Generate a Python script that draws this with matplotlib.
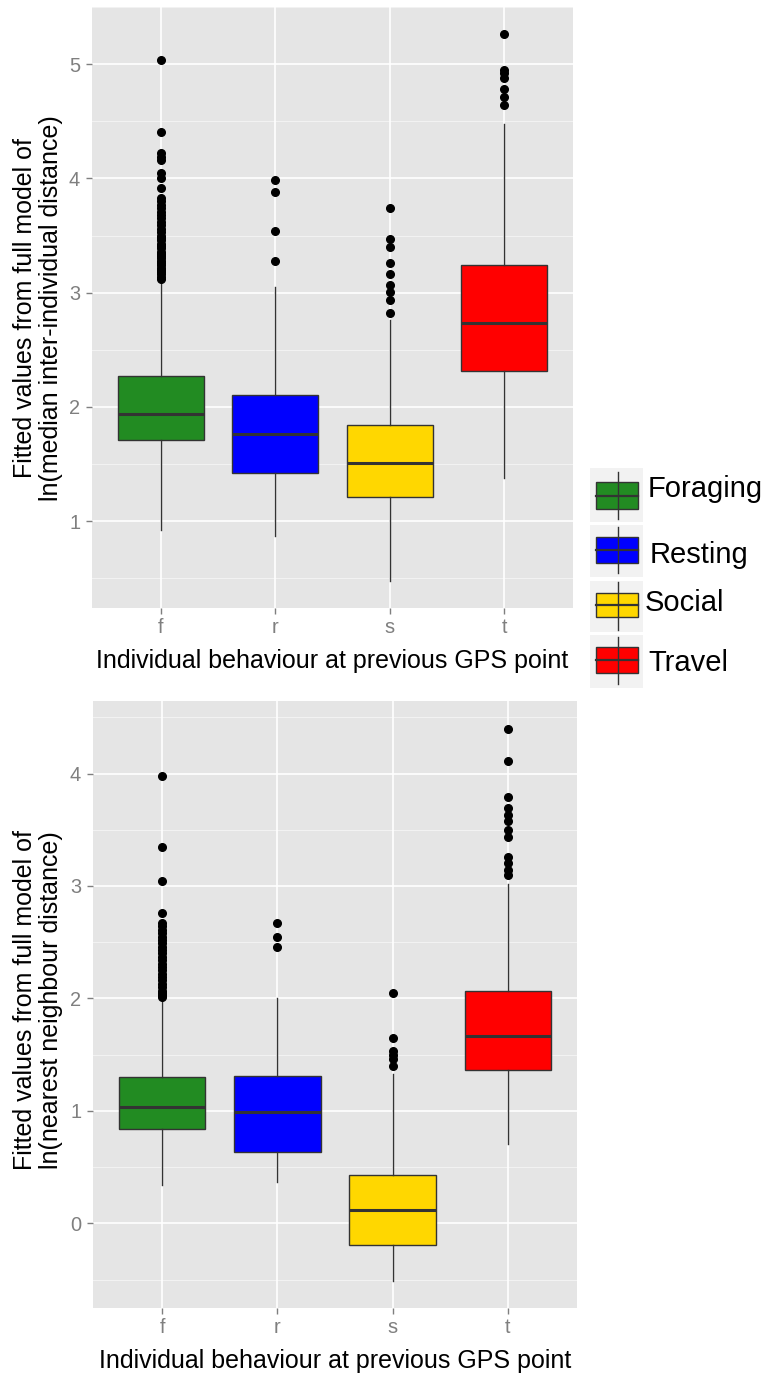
import matplotlib
matplotlib.use("Agg")
import matplotlib.pyplot as plt
from matplotlib.patches import Rectangle
from matplotlib.lines import Line2D

plt.rcParams["font.family"] = ["Liberation Sans", "DejaVu Sans"]

W, H, DPI = 770, 1380, 100

# ---------------------------------------------------------------- data
categories = ["f", "r", "s", "t"]
behaviours = ["Foraging", "Resting", "Social", "Travel"]
fill_colours = ["#228B22", "#0000FF", "#FFD700", "#FF0000"]

# upper panel: ln(median inter-individual distance)
iid_whislo = [0.92, 0.87, 0.48, 1.38]
iid_q1 = [1.71, 1.42, 1.21, 2.31]
iid_med = [1.94, 1.76, 1.51, 2.73]
iid_q3 = [2.27, 2.10, 1.84, 3.24]
iid_whishi = [3.10, 3.05, 2.76, 4.48]
iid_outliers = [
    [5.04, 4.41, 4.22, 4.19, 4.16, 4.05, 4.00, 3.92, 3.83, 3.80, 3.77, 3.74,
     3.71, 3.68, 3.65, 3.62, 3.59, 3.56, 3.53, 3.50, 3.48, 3.46, 3.43, 3.41,
     3.39, 3.36, 3.34, 3.32, 3.30, 3.28, 3.26, 3.24, 3.22, 3.20, 3.18, 3.16,
     3.14, 3.12],
    [3.99, 3.88, 3.54, 3.28],
    [3.74, 3.47, 3.40, 3.26, 3.16, 3.07, 3.01, 2.94, 2.82],
    [5.26, 4.95, 4.92, 4.88, 4.78, 4.71, 4.64],
]

# lower panel: ln(nearest neighbour distance)
nnd_whislo = [0.34, 0.37, -0.51, 0.705]
nnd_q1 = [0.836, 0.634, -0.19, 1.36]
nnd_med = [1.034, 0.99, 0.12, 1.67]
nnd_q3 = [1.30, 1.31, 0.43, 2.066]
nnd_whishi = [1.99, 2.00, 1.33, 3.02]
nnd_outliers = [
    [3.98, 3.35, 3.04, 2.76, 2.67, 2.64, 2.61, 2.58, 2.55, 2.52, 2.49, 2.46,
     2.43, 2.40, 2.37, 2.34, 2.31, 2.28, 2.25, 2.22, 2.19, 2.16, 2.13, 2.10,
     2.07, 2.05, 2.03, 2.01],
    [2.67, 2.55, 2.46],
    [2.045, 1.65, 1.53, 1.50, 1.46, 1.40],
    [4.40, 4.11, 3.79, 3.69, 3.63, 3.58, 3.50, 3.44, 3.26, 3.20, 3.14, 3.10],
]

x_title = "Individual behaviour at previous GPS point"
y_title_top = ["Fitted values from full model of",
               "ln(median inter-individual distance)"]
y_title_bottom = ["Fitted values from full model of",
                  "ln(nearest neighbour distance)"]

# ---------------------------------------------------------------- style
PANEL_BG = "#E5E5E5"
GRID_MINOR = "#F2F2F2"
AXIS_GREY = "#7F7F7F"
LINE_DARK = "#333333"


def fig_rect(x0, y0, x1, y1):
    """Pixel box (top-left origin) -> figure fraction rect."""
    return [x0 / W, 1 - y1 / H, (x1 - x0) / W, (y1 - y0) / H]


def draw_panel(ax, whislo, q1, med, q3, whishi, outliers, ylim, yticks, yminor):
    stats = []
    for i in range(len(categories)):
        stats.append(dict(med=med[i], q1=q1[i], q3=q3[i],
                          whislo=whislo[i], whishi=whishi[i],
                          fliers=outliers[i], label=categories[i]))
    ax.set_facecolor(PANEL_BG)
    for s in ax.spines.values():
        s.set_visible(False)
    ax.set_xlim(0.4, 4.6)
    ax.set_ylim(*ylim)
    for v in yminor:
        ax.axhline(v, color=GRID_MINOR, lw=0.8, zorder=0.5)
    for v in yticks:
        ax.axhline(v, color="white", lw=1.2, zorder=0.6)
    for p in range(1, len(categories) + 1):
        ax.axvline(p, color="white", lw=1.2, zorder=0.6)

    bp = ax.bxp(stats, positions=range(1, len(categories) + 1), widths=0.75,
                patch_artist=True, showcaps=False, manage_ticks=False,
                boxprops=dict(edgecolor=LINE_DARK, linewidth=1.0),
                medianprops=dict(color=LINE_DARK, linewidth=2.2),
                whiskerprops=dict(color=LINE_DARK, linewidth=1.0),
                flierprops=dict(marker="o", markerfacecolor="black",
                                markeredgecolor="black", markersize=5.5,
                                linestyle="none"),
                zorder=2)
    for box, c in zip(bp["boxes"], fill_colours):
        box.set_facecolor(c)

    ax.set_xticks(range(1, len(categories) + 1))
    ax.set_xticklabels(categories)
    ax.set_yticks(yticks)
    ax.set_yticklabels([str(v) for v in yticks])
    ax.tick_params(axis="both", colors=AXIS_GREY, labelcolor=AXIS_GREY,
                   labelsize=14.4, length=4.5, width=1.0)
    ax.tick_params(axis="x", pad=3)
    ax.tick_params(axis="y", pad=4)


fig = plt.figure(figsize=(W / DPI, H / DPI), dpi=DPI)
fig.patch.set_facecolor("white")

ax_top = fig.add_axes(fig_rect(92, 7, 573, 608))
draw_panel(ax_top, iid_whislo, iid_q1, iid_med, iid_q3, iid_whishi,
           iid_outliers, (0.24, 5.5), [1, 2, 3, 4, 5],
           [0.5, 1.5, 2.5, 3.5, 4.5, 5.5])

ax_bot = fig.add_axes(fig_rect(93, 701, 577, 1308))
draw_panel(ax_bot, nnd_whislo, nnd_q1, nnd_med, nnd_q3, nnd_whishi,
           nnd_outliers, (-0.753, 4.645), [0, 1, 2, 3, 4],
           [-0.5, 0.5, 1.5, 2.5, 3.5, 4.5])

# axis titles
fig.text(332 / W, 1 - 661 / H, x_title, ha="center", va="center", fontsize=18)
fig.text(335 / W, 1 - 1361 / H, x_title, ha="center", va="center", fontsize=18)
for lines, yc in ((y_title_top, 308), (y_title_bottom, 1000)):
    fig.text(25 / W, 1 - yc / H, lines[0], rotation=90, ha="center",
             va="center", fontsize=18)
    fig.text(51 / W, 1 - yc / H, lines[1], rotation=90, ha="center",
             va="center", fontsize=18)

# legend drawn in a pixel-coordinate overlay
lg = fig.add_axes([0, 0, 1, 1], facecolor="none")
lg.set_xlim(0, W)
lg.set_ylim(H, 0)
lg.axis("off")
key_rows = [(468, 522, 482, 509, 472, 519, 497),
            (525, 577, 537, 563, 527, 573, 563),
            (581, 632, 593, 617, 582, 630, 611),
            (635, 688, 647, 673, 637, 684, 671)]
text_x = [648, 650, 645, 648]
for (k0, k1, b0, b1, w0, w1, base), name, colour, tx in zip(
        key_rows, behaviours, fill_colours, text_x):
    lg.add_patch(Rectangle((590, k0), 53, k1 - k0, facecolor="#F2F2F2",
                           edgecolor="none"))
    lg.add_line(Line2D([618, 618], [w0, w1], color=LINE_DARK, lw=1.0))
    lg.add_patch(Rectangle((596, b0), 42, b1 - b0, facecolor=colour,
                           edgecolor=LINE_DARK, lw=1.0))
    lg.add_line(Line2D([596, 638], [(b0 + b1) / 2] * 2, color=LINE_DARK,
                       lw=1.6))
    lg.text(tx, base, name, fontsize=21, ha="left", va="baseline",
            color="black")

fig.savefig("out.png", dpi=DPI, facecolor="white")
